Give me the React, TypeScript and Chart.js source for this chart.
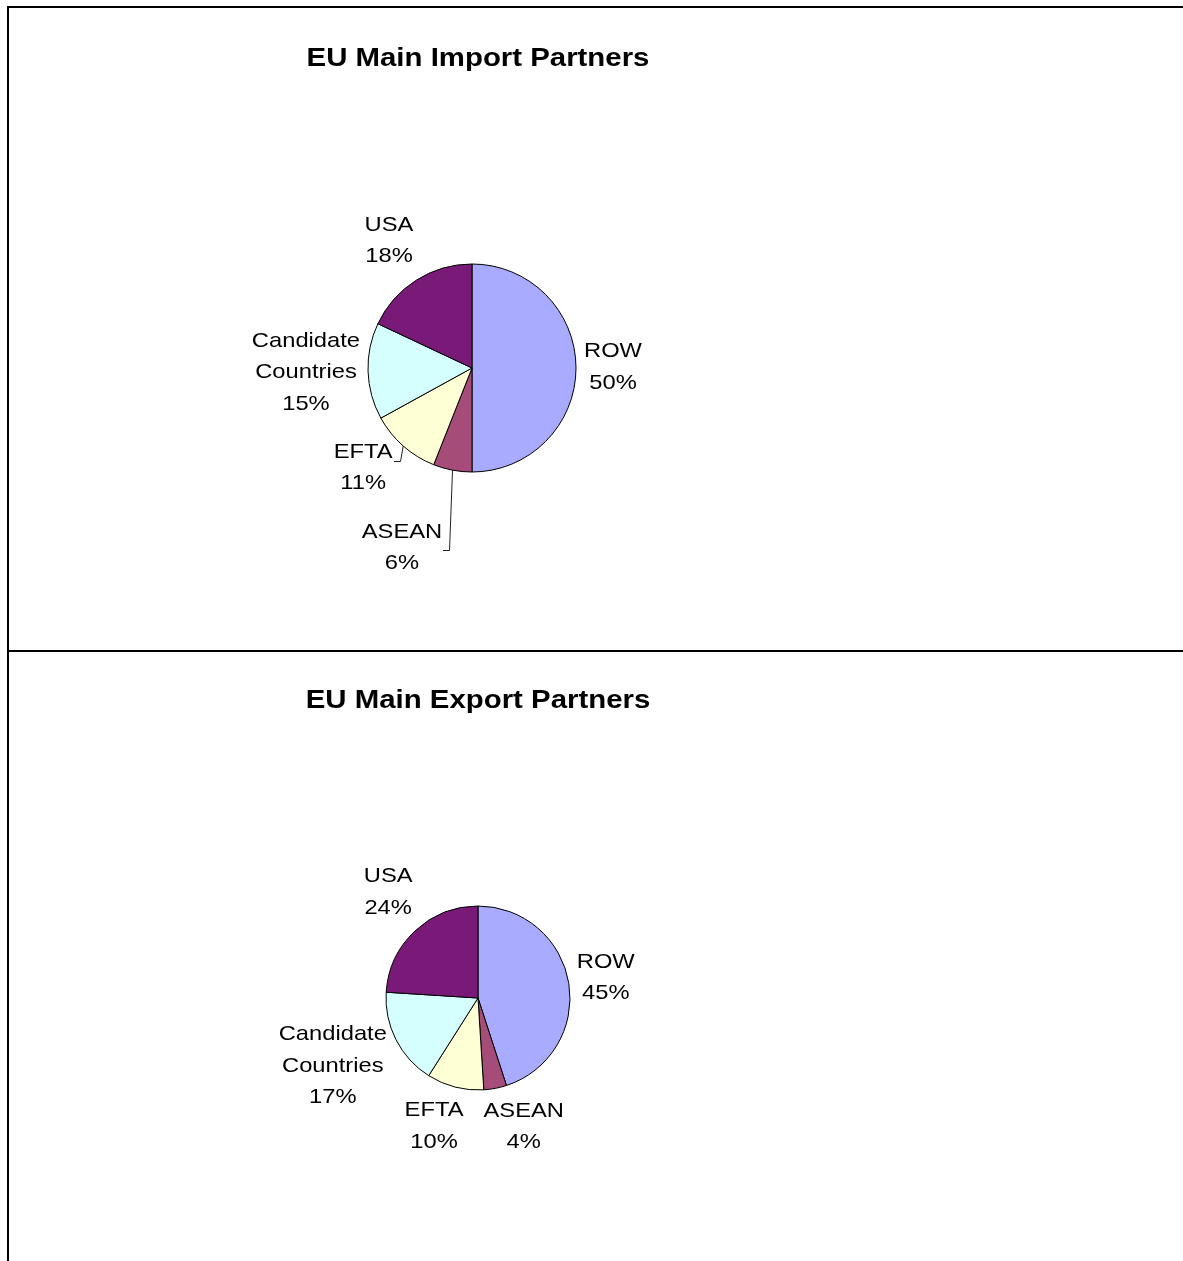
import React, { useEffect, useRef } from "react";
import { Chart, registerables } from "chart.js";

Chart.register(...registerables);

// ---- data ----
const partnerLabels = ["ROW", "ASEAN", "EFTA", "Candidate\nCountries", "USA"];
const importShares = [50, 6, 11, 15, 18];
const exportShares = [45, 4, 10, 17, 24];
const importTitle = "EU Main Import Partners";
const exportTitle = "EU Main Export Partners";
const sliceColors = ["#A8ABFF", "#A64C79", "#FFFFD5", "#D5FFFF", "#7A1A78"];

const FONT = '"Liberation Sans", Arial, Helvetica, sans-serif';

const pieLabelPlugin = {
  id: "pieLabels",
  afterDatasetsDraw(chart: any, _args: any, opts: any) {
    const ctx: CanvasRenderingContext2D = chart.ctx;
    const meta = chart.getDatasetMeta(0);
    const labels = chart.data.labels as string[];
    const values = chart.data.datasets[0].data as number[];
    const total = values.reduce((a, b) => a + b, 0);
    ctx.save();
    ctx.fillStyle = "#000";
    ctx.textAlign = "center";
    ctx.textBaseline = "middle";
    ctx.font = `${opts.fontSize}px ${FONT}`;
    meta.data.forEach((arc: any, i: number) => {
      const p = arc.getProps(["x", "y", "startAngle", "endAngle", "outerRadius"], true);
      const mid = (p.startAngle + p.endAngle) / 2;
      const cos = Math.cos(mid);
      const sin = Math.sin(mid);
      const lines = [...String(labels[i]).split("\n"), Math.round((values[i] / total) * 100) + "%"];
      const widths = lines.map((l) => ctx.measureText(l).width * opts.stretch);
      const halfW = Math.max(...widths) / 2;
      const halfH = (lines.length * opts.lineHeight) / 2;
      const tx = Math.abs(cos) > 1e-6 ? halfW / Math.abs(cos) : Infinity;
      const ty = Math.abs(sin) > 1e-6 ? halfH / Math.abs(sin) : Infinity;
      const d = p.outerRadius + opts.gap + Math.min(tx, ty);
      const nudge = (opts.nudges && opts.nudges[i]) || [0, 0];
      const cx = p.x + cos * d + nudge[0];
      const cy = p.y + sin * d + nudge[1];
      lines.forEach((l, k) => {
        const ly = cy + (k - (lines.length - 1) / 2) * opts.lineHeight;
        ctx.save();
        ctx.translate(cx, ly);
        ctx.scale(opts.stretch, 1);
        ctx.fillText(l, 0, 0);
        ctx.restore();
      });
      if (opts.leaders && opts.leaders[i]) {
        const right = cx + halfW;
        const ly = Math.round(cy + (opts.leaderDy ? opts.leaderDy[i] || 0 : 0)) + 0.5;
        ctx.beginPath();
        ctx.moveTo(p.x + cos * p.outerRadius, p.y + sin * p.outerRadius);
        ctx.lineTo(Math.round(right + 7) + 0.5, ly);
        ctx.lineTo(Math.round(right + 1), ly);
        ctx.strokeStyle = "#222";
        ctx.lineWidth = 1;
        ctx.stroke();
      }
    });
    // title
    ctx.font = `bold ${opts.titleSize}px ${FONT}`;
    ctx.textBaseline = "alphabetic";
    ctx.save();
    ctx.translate(opts.titleX, opts.titleBaseline);
    ctx.scale(opts.titleStretch, 1);
    ctx.fillText(opts.title, 0, 0);
    ctx.restore();
    ctx.restore();
  },
};

type PieProps = {
  shares: number[];
  title: string;
  top: number;
  height: number;
  cx: number;
  cy: number;
  r: number;
  titleBaseline: number;
  nudges: number[][];
  leaders: boolean[];
  leaderDy?: number[];
};

const W = 1183;

function PiePanel(props: PieProps) {
  const ref = useRef<HTMLCanvasElement | null>(null);
  useEffect(() => {
    if (!ref.current) return;
    const side = 2 * props.r + 1;
    const left = props.cx - side / 2;
    const top = props.cy - side / 2;
    const chart = new Chart(ref.current, {
      type: "pie",
      data: {
        labels: partnerLabels,
        datasets: [
          {
            data: props.shares,
            backgroundColor: sliceColors,
            borderColor: "#000",
            borderWidth: 1,
            hoverOffset: 0,
            offset: 0,
          },
        ],
      },
      options: {
        responsive: false,
        maintainAspectRatio: false,
        animation: false,
        events: [],
        rotation: 0,
        layout: {
          padding: {
            left,
            top,
            right: W - left - side,
            bottom: props.height - top - side,
          },
        },
        plugins: {
          legend: { display: false },
          tooltip: { enabled: false },
          title: { display: false },
          pieLabels: {
            fontSize: 21,
            stretch: 1.13,
            lineHeight: 31.5,
            gap: 8,
            nudges: props.nudges,
            leaders: props.leaders,
            leaderDy: props.leaderDy,
            title: props.title,
            titleSize: 26,
            titleStretch: 1.13,
            titleX: 478,
            titleBaseline: props.titleBaseline,
          },
        } as any,
      },
      plugins: [pieLabelPlugin as any],
    });
    return () => chart.destroy();
  }, []);
  return (
    <canvas
      ref={ref}
      width={W}
      height={props.height}
      style={{ position: "absolute", left: 0, top: props.top, width: W, height: props.height, display: "block" }}
    />
  );
}

export default function App() {
  const line = (s: React.CSSProperties) => (
    <div style={{ position: "absolute", background: "#000", ...s }} />
  );
  return (
    <div
      style={{
        position: "absolute",
        left: 0,
        top: 0,
        width: W,
        height: 1261,
        overflow: "hidden",
        background: "#fff",
      }}
    >
      <PiePanel
        shares={importShares}
        title={importTitle}
        top={0}
        height={650}
        cx={472}
        cy={368}
        r={104}
        titleBaseline={66}
        nudges={[[0, -1], [-43, 38], [-7, -16], [0, -1], [-3, -1]]}
        leaders={[false, true, true, false, false]}
        leaderDy={[0, 2, -7, 0, 0]}
      />
      <PiePanel
        shares={exportShares}
        title={exportTitle}
        top={652}
        height={609}
        cx={478}
        cy={346}
        r={92}
        titleBaseline={56}
        nudges={[[0, 0], [21, -1], [-11, 0], [-2, -5], [3, -7]]}
        leaders={[false, false, false, false, false]}
      />
      {line({ left: 7, top: 6, width: W - 7, height: 2 })}
      {line({ left: 7, top: 6, width: 2, height: 1261 - 6 })}
      {line({ left: 7, top: 650, width: W - 7, height: 2 })}
    </div>
  );
}
